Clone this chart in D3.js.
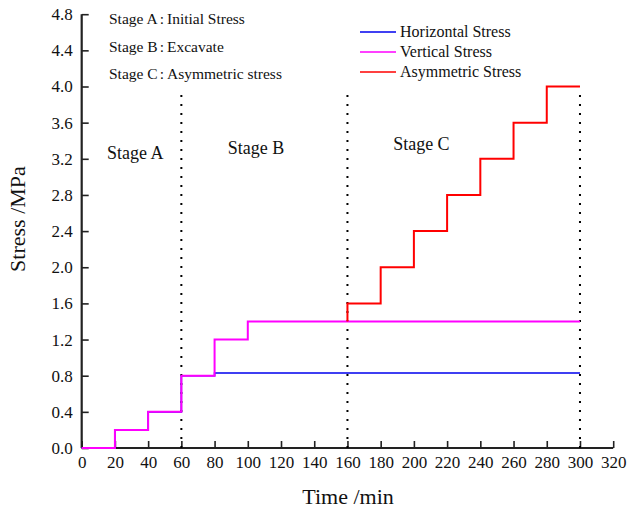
<!DOCTYPE html>
<html><head><meta charset="utf-8">
<script src="https://cdn.jsdelivr.net/npm/d3@7"></script>
<style>body{margin:0;background:#fff}svg{display:block}text{font-family:"Liberation Serif","Times New Roman",serif;fill:#111}</style>
</head><body>
<svg id="c" width="627" height="510"></svg>
<script>
const times = [0, 20, 40, 60, 80, 100, 120, 140, 160, 180, 200, 220, 240, 260, 280, 300];
const horizontal = [0, 0.2, 0.4, 0.8, 0.83, 0.83, 0.83, 0.83, 0.83, 0.83, 0.83, 0.83, 0.83, 0.83, 0.83, 0.83];
const vertical = [0, 0.2, 0.4, 0.8, 1.2, 1.4, 1.4, 1.4, 1.4, 1.4, 1.4, 1.4, 1.4, 1.4, 1.4, 1.4];
const asymTimes = [160, 160, 180, 200, 220, 240, 260, 280, 300];
const asymmetric = [1.4, 1.6, 2.0, 2.4, 2.8, 3.2, 3.6, 4.0, 4.0];
const xTicks = d3.range(0, 321, 20);
const yTicks = d3.range(0, 4.81, 0.4);
const stageLines = [60, 160, 300];
const stageTop = 3.95;
const notes = [["Stage A", "Initial Stress"], ["Stage B", "Excavate"], ["Stage C", "Asymmetric stress"]];
const stageLabels = [{t: "Stage A", x: 15.2, y: 3.2}, {t: "Stage B", x: 88, y: 3.25}, {t: "Stage C", x: 187.5, y: 3.3}];
const legendItems = [{name: "Horizontal Stress", color: "#0000ee"}, {name: "Vertical Stress", color: "#ff00ff"}, {name: "Asymmetric Stress", color: "#ff0000"}];

const svg = d3.select("#c");
const x = d3.scaleLinear().domain([0, 320]).range([81.7, 613.2]);
const y = d3.scaleLinear().domain([0, 4.8]).range([448, 14.2]);

// axes
const xa = svg.append("g").attr("transform", `translate(0,${y(0)})`)
  .call(d3.axisBottom(x).tickValues(xTicks).tickSize(-7).tickPadding(8).tickFormat(d3.format("d")));
const ya = svg.append("g").attr("transform", `translate(${x(0)},0)`)
  .call(d3.axisLeft(y).tickValues(yTicks).tickSize(-7).tickPadding(9).tickFormat(d3.format(".1f")));
[xa, ya].forEach(g => {
  g.select(".domain").attr("stroke", "#222").attr("stroke-width", 2.2);
  g.selectAll(".tick line").attr("stroke", "#222").attr("stroke-width", 1.6);
  g.selectAll(".tick text").attr("font-size", 17).attr("font-family", "Liberation Serif").attr("fill", "#111");
});
ya.select(".domain").attr("d", `M0,${y(0)}V${y(4.8)}`);
xa.select(".domain").attr("d", `M${x(0)},0H${x(320)}`);

// dotted stage lines
svg.selectAll(".stage").data(stageLines).enter().append("line")
  .attr("x1", d => x(d)).attr("x2", d => x(d))
  .attr("y1", y(0)).attr("y2", y(stageTop))
  .attr("stroke", "#000").attr("stroke-width", 2).attr("stroke-dasharray", "2,7");

const line = d3.line().x(d => x(d[0])).y(d => y(d[1])).curve(d3.curveStepAfter);
svg.append("path").datum(times.map((t, i) => [t, horizontal[i]]))
  .attr("d", line).attr("fill", "none").attr("stroke", "#0000ee").attr("stroke-width", 1.6);
svg.append("path").datum(times.map((t, i) => [t, vertical[i]]))
  .attr("d", line).attr("fill", "none").attr("stroke", "#ff00ff").attr("stroke-width", 2);
svg.append("path").datum(asymTimes.map((t, i) => [t, asymmetric[i]]))
  .attr("d", line).attr("fill", "none").attr("stroke", "#ff0000").attr("stroke-width", 2);

// titles
svg.append("text").attr("x", 348).attr("y", 504).attr("text-anchor", "middle").attr("font-size", 22).text("Time /min");
svg.append("text").attr("transform", "translate(25,219) rotate(-90)").attr("text-anchor", "middle").attr("font-size", 22).text("Stress /MPa");

// notes
const nt = svg.selectAll(".note").data(notes).enter().append("text")
  .attr("x", 109).attr("y", (d, i) => 24 + i * 27.5).attr("font-size", 15.5);
nt.append("tspan").text(d => d[0]);
nt.append("tspan").attr("dx", 2).text(":");
nt.append("tspan").attr("dx", 3).text(d => d[1]);

svg.selectAll(".sl").data(stageLabels).enter().append("text")
  .attr("x", d => x(d.x)).attr("y", d => y(d.y)).attr("font-size", 18).text(d => d.t);

// legend
const lg = svg.selectAll(".lg").data(legendItems).enter().append("g")
  .attr("transform", (d, i) => `translate(360,${32 + i * 20})`);
lg.append("line").attr("x1", 0).attr("x2", 36).attr("stroke", d => d.color).attr("stroke-width", 1.6);
lg.append("text").attr("x", 40).attr("y", 5).attr("font-size", 16).text(d => d.name);
</script>
</body></html>
